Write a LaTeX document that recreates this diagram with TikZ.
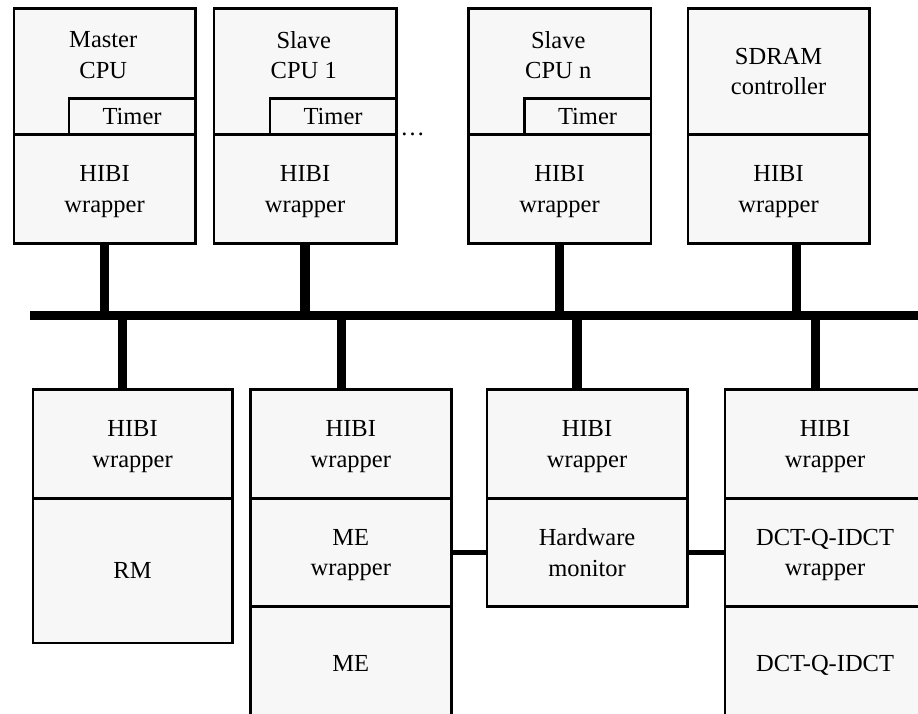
\documentclass[tikz,border=0pt]{standalone}
\usepackage{fontspec}
\setmainfont{Liberation Serif}
\definecolor{boxfill}{HTML}{F7F7F7}

\tikzset{
  txt/.style={font=\fontsize{24.5}{30.5}\selectfont, align=center, text depth=0pt},
  blk/.style={txt, draw=black, fill=boxfill, line width=2.6pt, inner sep=0pt,
              anchor=north west},
  lbl/.style={txt, inner sep=0pt},
  busline/.style={line width=9.5pt},
  drop/.style={line width=9.5pt},
  link/.style={line width=4.5pt},
}

% a block given by its outline corners (x1,y1) -- (x2,y2), y growing downwards
\newcommand\blockat[6]{%
  \node[blk, minimum width={(#4-#2)*1pt}, minimum height={(#5-#3)*1pt}] (#1) at (#2,#3) {#6};}

\begin{document}
\begin{tikzpicture}[x=1pt, y=-1pt]
\useasboundingbox (0,0) rectangle (918,713);
\clip (0,0) rectangle (918,713);

% ---- processors and memory controller on the upper side of the bus
\blockat{mcpu}{12.5}{7}{194}{133}{}
\blockat{mtmr}{67.5}{97}{194}{133}{Timer}
\blockat{mhibi}{12.5}{133}{194}{242}{HIBI\\wrapper}
\node[lbl] (mlbl) at (103.25,55) {Master\\CPU};

\blockat{s1cpu}{212.5}{7}{395}{133}{}
\blockat{s1tmr}{268.5}{97}{395}{133}{Timer}
\blockat{s1hibi}{212.5}{133}{395}{242}{HIBI\\wrapper}
\node[lbl] (s1lbl) at (303.75,55) {Slave\\CPU 1};

\node[lbl, anchor=base] (dots) at (412.5,135.5) {…};

\blockat{sncpu}{467}{7}{649.5}{133}{}
\blockat{sntmr}{523}{97}{649.5}{133}{Timer}
\blockat{snhibi}{467}{133}{649.5}{242}{HIBI\\wrapper}
\node[lbl] (snlbl) at (558.25,55) {Slave\\CPU n};

\blockat{sdram}{686.5}{7}{868}{133}{SDRAM\\controller}
\blockat{sdhibi}{686.5}{133}{868}{242}{HIBI\\wrapper}

% ---- accelerators and memories on the lower side of the bus
\blockat{rmhibi}{31.5}{388}{231}{497}{HIBI\\wrapper}
\blockat{rm}{31.5}{497}{231}{641.5}{RM}

\blockat{mehibi}{249}{388}{450}{497}{HIBI\\wrapper}
\blockat{mewr}{249}{497}{450}{605}{ME\\wrapper}
\blockat{me}{249}{605}{450}{719}{ME}

\blockat{hwhibi}{485.5}{388}{686}{497}{HIBI\\wrapper}
\blockat{hwmon}{485.5}{497}{686}{605}{Hardware\\monitor}

\blockat{dcthibi}{723.5}{388}{924}{497}{HIBI\\wrapper}
\blockat{dctwr}{723.5}{497}{924}{605}{DCT-Q-IDCT\\wrapper}
\blockat{dct}{723.5}{605}{924}{719}{DCT-Q-IDCT}

% ---- HIBI bus
\coordinate (busL) at (30,315.5);
\coordinate (busR) at (925,315.5);
\draw[busline] (busL) -- (busR);

% bus taps of the upper agents
\draw[drop] (mhibi.south) -- (mhibi.south |- busL);
\draw[drop] (s1hibi.south) -- (s1hibi.south |- busL);
\draw[drop] (snhibi.south) -- (snhibi.south |- busL);
\draw[drop] ([xshift=17.75pt]sdhibi.south) -- ([xshift=17.75pt]sdhibi.south |- busL);

% bus taps of the lower agents
\draw[drop] ([xshift=-10pt]rmhibi.north) -- ([xshift=-10pt]rmhibi.north |- busL);
\draw[drop] ([xshift=-9.5pt]mehibi.north) -- ([xshift=-9.5pt]mehibi.north |- busL);
\draw[drop] ([xshift=-10pt]hwhibi.north) -- ([xshift=-10pt]hwhibi.north |- busL);
\draw[drop] ([xshift=-9.75pt]dcthibi.north) -- ([xshift=-9.75pt]dcthibi.north |- busL);

% monitor links
\draw[link] (mewr.east) -- (hwmon.west);
\draw[link] (hwmon.east) -- (dctwr.west);
\end{tikzpicture}
\end{document}
